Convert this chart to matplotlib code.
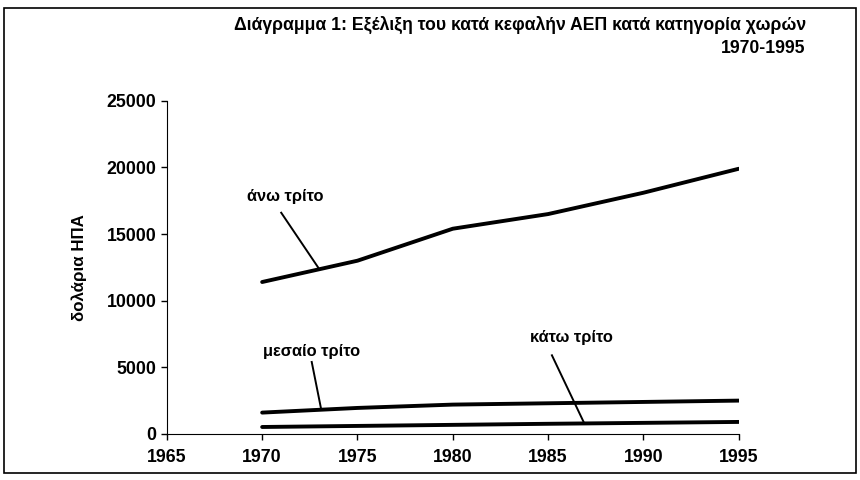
import numpy as np
import matplotlib.pyplot as plt
from matplotlib.patches import Rectangle

plt.rcParams['font.family'] = ['Liberation Sans', 'DejaVu Sans']

# Δεδομένα (κατά κεφαλήν ΑΕΠ, δολάρια ΗΠΑ)
years = [1970, 1975, 1980, 1985, 1990, 1995]
upper = [11400, 13000, 15400, 16500, 18100, 19900]
middle = [1600, 1950, 2200, 2300, 2400, 2500]
lower = [520, 600, 680, 760, 830, 900]

title1 = "Διάγραμμα 1: Εξέλιξη του κατά κεφαλήν ΑΕΠ κατά κατηγορία χωρών"
title2 = "1970-1995"
xticks = [1965, 1970, 1975, 1980, 1985, 1990, 1995]
yticks = [0, 5000, 10000, 15000, 20000, 25000]

fig = plt.figure(figsize=(8.6, 4.8), dpi=100)
ax = fig.add_axes([0.194, 0.096, 0.665, 0.694])

for serie in (upper, middle, lower):
    ax.plot(years, serie, color='black', linewidth=2.8, solid_capstyle='round')

# ετικέτες με γραμμές οδηγούς
def label(text, tx, ty, x0, y0, x1, serie):
    ax.text(tx, ty, text, ha='center', va='center', fontsize=11.8, fontweight='bold')
    ax.plot([x0, x1], [y0, np.interp(x1, years, serie)], color='black', linewidth=1.4)

label("άνω τρίτο", 1971.2, 17800, 1971.0, 16600, 1973.0, upper)
label("μεσαίο τρίτο", 1972.6, 6150, 1972.6, 5400, 1973.1, middle)
label("κάτω τρίτο", 1986.2, 7200, 1985.2, 5900, 1986.9, lower)

ax.set_xlim(1965, 1995)
ax.set_ylim(0, 25000)
ax.set_xticks(xticks)
ax.set_yticks(yticks)
ax.tick_params(direction='out', length=4, width=1, labelsize=12.8)
for t in ax.get_xticklabels() + ax.get_yticklabels():
    t.set_fontweight('bold')
ax.tick_params(axis='x', pad=7)
ax.spines['top'].set_visible(False)
ax.spines['right'].set_visible(False)
ax.set_ylabel("δολάρια ΗΠΑ", fontsize=12.2, fontweight='bold', labelpad=14)

fig.text(0.937, 0.948, title1, ha='right', va='center', fontsize=12.7, fontweight='bold')
fig.text(0.937, 0.898, title2, ha='right', va='center', fontsize=12.7, fontweight='bold')

# πλαίσιο γύρω από το διάγραμμα
fig.patches.append(Rectangle((0.005, 0.015), 0.99, 0.968, transform=fig.transFigure,
                             fill=False, edgecolor='black', linewidth=1.2))

fig.savefig('out.png', dpi=100)
